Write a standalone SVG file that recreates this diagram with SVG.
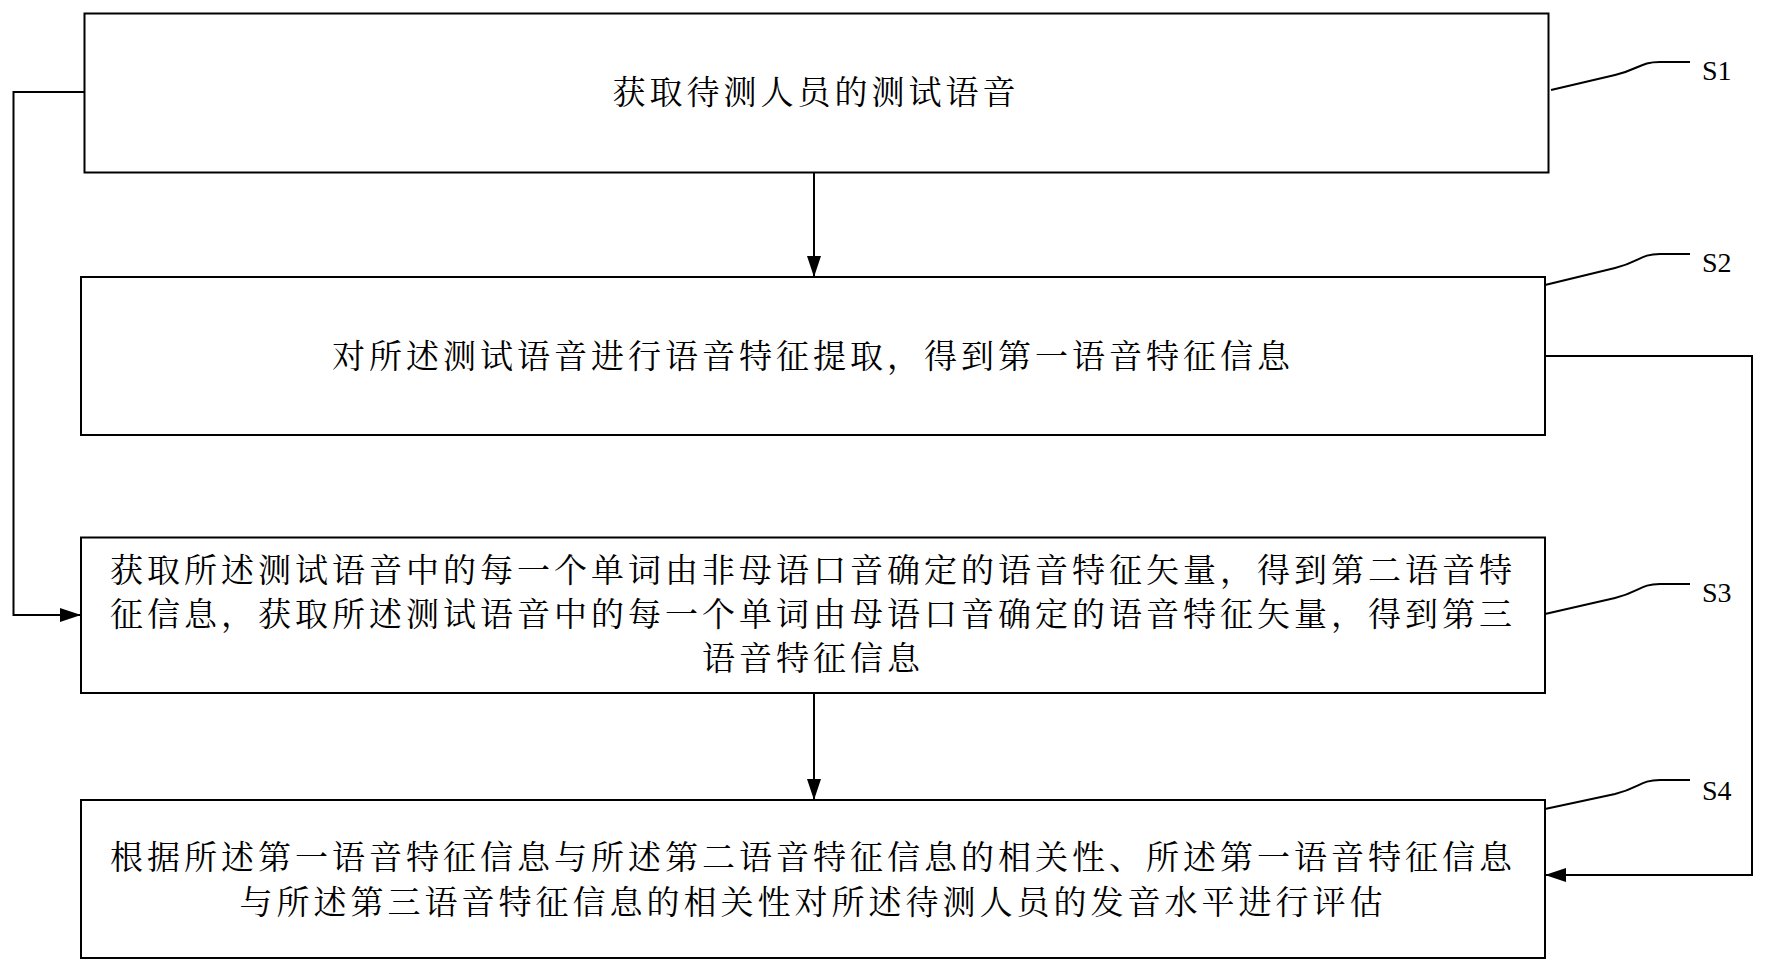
<svg xmlns="http://www.w3.org/2000/svg" width="1765" height="971" viewBox="0 0 1765 971">
<style>
.b{fill:#fff;stroke:#000;stroke-width:2}
.t{font-family:"Noto Serif CJK SC","Noto Sans CJK SC",serif;font-size:33px;letter-spacing:4px;text-anchor:middle;fill:#000}
.l{font-family:"Liberation Serif",serif;font-size:28px;fill:#000}
.c{fill:none;stroke:#000;stroke-width:2}
</style>
<defs><marker id="a" markerWidth="24" markerHeight="16" refX="20" refY="7" orient="auto" markerUnits="userSpaceOnUse"><path d="M0,0 L21,7 L0,14 Z" fill="#000"/></marker></defs>
<rect width="1765" height="971" fill="#fff"/>
<g id="n1"><rect class="b" x="84.5" y="13.5" width="1464" height="159"/><text class="t" x="816" y="104">获取待测人员的测试语音</text></g>
<g id="n2"><rect class="b" x="81" y="277" width="1464" height="158"/><text class="t" x="813" y="368">对所述测试语音进行语音特征提取，得到第一语音特征信息</text></g>
<g id="n3"><rect class="b" x="81" y="537.5" width="1464" height="155.5"/><text class="t" x="813" y="582">获取所述测试语音中的每一个单词由非母语口音确定的语音特征矢量，得到第二语音特</text><text class="t" x="813" y="626">征信息，获取所述测试语音中的每一个单词由母语口音确定的语音特征矢量，得到第三</text><text class="t" x="813" y="670">语音特征信息</text></g>
<g id="n4"><rect class="b" x="81" y="800" width="1464" height="158"/><text class="t" x="813" y="869">根据所述第一语音特征信息与所述第二语音特征信息的相关性、所述第一语音特征信息</text><text class="t" x="813" y="914">与所述第三语音特征信息的相关性对所述待测人员的发音水平进行评估</text></g>
<g id="labels">
<path class="c" d="M1551,90 L1615,75 C1640,69 1640,62 1660,62 L1690,62"/><text class="l" x="1702" y="80">S1</text>
<path class="c" d="M1545,285 L1615,268 C1640,262 1640,254 1660,254 L1690,254"/><text class="l" x="1702" y="272">S2</text>
<path class="c" d="M1545,614 L1615,598 C1640,592 1640,584 1660,584 L1690,584"/><text class="l" x="1702" y="602">S3</text>
<path class="c" d="M1545,809 L1615,794 C1640,788 1640,780 1660,780 L1690,780"/><text class="l" x="1702" y="800">S4</text>
</g>
<g id="connectors">
<path class="c" d="M814,172.5 L814,276" marker-end="url(#a)"/>
<path class="c" d="M814,693 L814,799" marker-end="url(#a)"/>
<path class="c" d="M84.5,92 L13.5,92 L13.5,615 L80,615" marker-end="url(#a)"/>
<path class="c" d="M1545,356 L1752,356 L1752,875 L1546,875" marker-end="url(#a)"/>
</g>
</svg>
